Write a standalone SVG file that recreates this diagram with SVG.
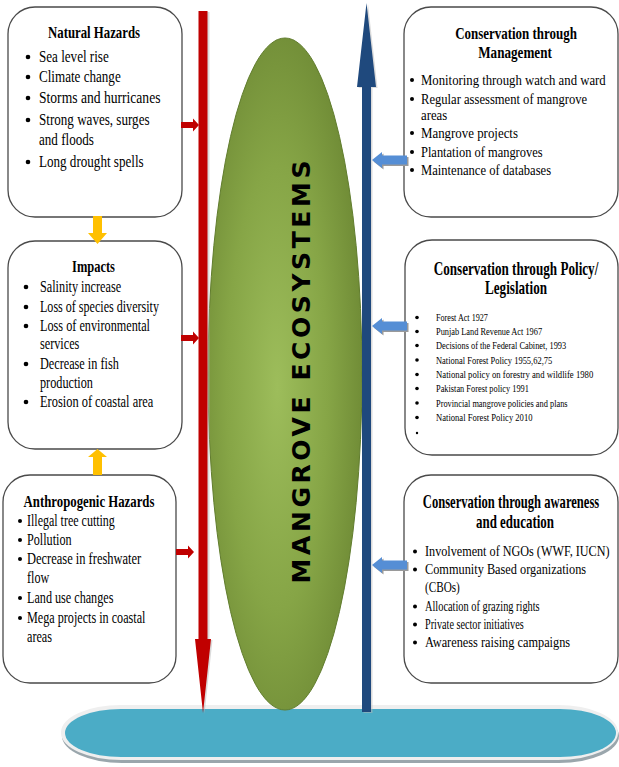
<svg xmlns="http://www.w3.org/2000/svg" xmlns:xlink="http://www.w3.org/1999/xlink" width="619" height="767" viewBox="0 0 619 767">
<defs>
  <radialGradient id="gGreen" cx="0.45" cy="0.52" r="0.55">
    <stop offset="0" stop-color="#9DBD5B"/>
    <stop offset="0.6" stop-color="#86A546"/>
    <stop offset="1" stop-color="#718D37"/>
  </radialGradient>
  <path id="ra" d="M0,-3H12V-6.5L18,0L12,6.5V3H0Z" fill="#C00000"/>
  <path id="ba" d="M0,0L10,-8V-4.5H35V4.5H10V8Z"/>
</defs>
<style>
  .box{fill:#ffffff;stroke:#4a4a4a;stroke-width:1.3}
  .t{font-family:"Liberation Serif","Times New Roman",serif;fill:#000000}
  .h{font-weight:bold;text-anchor:middle}
  .s17{font-size:17px}
  .s16{font-size:16px}
  .s15{font-size:15px}
  .s14{font-size:14px}
  .s11{font-size:11px}
  .s18{font-size:18px}
  .b{fill:#000000}
  .bsh{fill:#9a9a9a}
  .bl{fill:#558ED5}
</style>

<g id="water-base">
  <rect x="62" y="709" width="557" height="54" rx="60" ry="27" fill="#9AA6AC"/>
  <rect x="61" y="705" width="557" height="55" rx="60" ry="27" fill="#EFEFEF"/>
  <rect x="65" y="709" width="551" height="48" rx="56" ry="24" fill="#4BACC6"/>
</g>

<g id="mangrove-ecosystems">
  <ellipse cx="285" cy="374" rx="77" ry="336" fill="url(#gGreen)" stroke="#617D2E" stroke-width="1"/>
  <text transform="translate(310,372) rotate(-90)" text-anchor="middle" font-family="DejaVu Sans, Verdana, sans-serif" font-weight="bold" font-size="25" textLength="423" lengthAdjust="spacing" fill="#000">MANGROVE ECOSYSTEMS</text>
</g>

<g id="natural-hazards">
  <rect class="box" x="8" y="7" width="174" height="210" rx="27" ry="27"/>
  <text class="t h s16" transform="matrix(0.8,0,0,1,94,38)">Natural Hazards</text>
  <circle class="b" cx="28" cy="57" r="2.3"/>
  <circle class="b" cx="28" cy="77" r="2.3"/>
  <circle class="b" cx="28" cy="98" r="2.3"/>
  <circle class="b" cx="28" cy="120" r="2.3"/>
  <circle class="b" cx="28" cy="162" r="2.3"/>
  <text class="t s17" transform="matrix(0.77,0,0,1,39,62)">Sea level rise</text>
  <text class="t s17" transform="matrix(0.77,0,0,1,39,82)">Climate  change</text>
  <text class="t s17" transform="matrix(0.8,0,0,1,39,103)">Storms and hurricanes</text>
  <text class="t s17" transform="matrix(0.77,0,0,1,39,125)">Strong waves, surges</text>
  <text class="t s17" transform="matrix(0.77,0,0,1,39,145)">and floods</text>
  <text class="t s17" transform="matrix(0.77,0,0,1,39,167)">Long drought spells</text>
</g>

<g id="impacts">
  <rect class="box" x="8" y="241" width="174" height="208" rx="27" ry="27"/>
  <text class="t h s16" transform="matrix(0.78,0,0,1,93.5,272)">Impacts</text>
  <circle class="b" cx="26" cy="287" r="2.3"/>
  <circle class="b" cx="26" cy="307" r="2.3"/>
  <circle class="b" cx="26" cy="326" r="2.3"/>
  <circle class="b" cx="26" cy="364" r="2.3"/>
  <circle class="b" cx="26" cy="402" r="2.3"/>
  <text class="t s17" transform="matrix(0.72,0,0,1,40,292)">Salinity increase</text>
  <text class="t s17" transform="matrix(0.71,0,0,1,40,312)">Loss of species diversity</text>
  <text class="t s17" transform="matrix(0.72,0,0,1,40,331)">Loss of environmental</text>
  <text class="t s17" transform="matrix(0.72,0,0,1,40,349)">services</text>
  <text class="t s17" transform="matrix(0.72,0,0,1,40,369)">Decrease in fish</text>
  <text class="t s17" transform="matrix(0.72,0,0,1,40,388)">production</text>
  <text class="t s17" transform="matrix(0.73,0,0,1,40,407)">Erosion of coastal area</text>
</g>

<g id="anthropogenic-hazards">
  <rect class="box" x="3" y="475" width="173" height="208" rx="27" ry="27"/>
  <text class="t h s16" transform="matrix(0.8,0,0,1,89,507)">Anthropogenic  Hazards</text>
  <circle class="b" cx="20" cy="521" r="2"/>
  <circle class="b" cx="20" cy="540" r="2"/>
  <circle class="b" cx="20" cy="559" r="2"/>
  <circle class="b" cx="20" cy="598" r="2"/>
  <circle class="b" cx="20" cy="618" r="2"/>
  <text class="t s16" transform="matrix(0.75,0,0,1,27,526)">Illegal tree cutting</text>
  <text class="t s16" transform="matrix(0.76,0,0,1,27,545)">Pollution</text>
  <text class="t s16" transform="matrix(0.78,0,0,1,27,564)">Decrease in freshwater</text>
  <text class="t s16" transform="matrix(0.76,0,0,1,27,583)">flow</text>
  <text class="t s16" transform="matrix(0.76,0,0,1,27,603)">Land use changes</text>
  <text class="t s16" transform="matrix(0.76,0,0,1,27,623)">Mega projects in coastal</text>
  <text class="t s16" transform="matrix(0.76,0,0,1,27,642)">areas</text>
</g>

<g id="conservation-management">
  <rect class="box" x="404" y="7" width="214" height="210" rx="27" ry="27"/>
  <text class="t h s16" transform="matrix(0.81,0,0,1,516,39)">Conservation through</text>
  <text class="t h s16" transform="matrix(0.82,0,0,1,515,58)">Management</text>
  <circle class="b" cx="412" cy="80" r="2"/>
  <circle class="b" cx="412" cy="99" r="2"/>
  <circle class="b" cx="412" cy="133" r="2"/>
  <circle class="b" cx="412" cy="152" r="2"/>
  <circle class="b" cx="412" cy="170" r="2"/>
  <text class="t s15" transform="matrix(0.85,0,0,1,421,85)">Monitoring  through watch and ward</text>
  <text class="t s15" transform="matrix(0.84,0,0,1,421,104)">Regular assessment of mangrove</text>
  <text class="t s15" transform="matrix(0.85,0,0,1,421,120)">areas</text>
  <text class="t s15" transform="matrix(0.86,0,0,1,421,138)">Mangrove projects</text>
  <text class="t s15" transform="matrix(0.83,0,0,1,421,157)">Plantation of mangroves</text>
  <text class="t s15" transform="matrix(0.84,0,0,1,421,175)">Maintenance of databases</text>
</g>

<g id="conservation-policy">
  <rect class="box" x="405" y="240" width="213" height="215" rx="27" ry="27"/>
  <text class="t h s18" transform="matrix(0.73,0,0,1,516,275)">Conservation through Policy/</text>
  <text class="t h s18" transform="matrix(0.73,0,0,1,516,294)">Legislation</text>
  <circle class="b" cx="417" cy="317.5" r="1.8"/>
  <circle class="b" cx="417" cy="331.5" r="1.8"/>
  <circle class="b" cx="417" cy="345.5" r="1.8"/>
  <circle class="b" cx="417" cy="360" r="1.8"/>
  <circle class="b" cx="417" cy="374.5" r="1.8"/>
  <circle class="b" cx="417" cy="388.5" r="1.8"/>
  <circle class="b" cx="417" cy="403" r="1.8"/>
  <circle class="b" cx="417" cy="417.5" r="1.8"/>
  <circle class="b" cx="417" cy="433" r="1.2"/>
  <text class="t s11" transform="matrix(0.74,0,0,1,436,321)">Forest Act 1927</text>
  <text class="t s11" transform="matrix(0.76,0,0,1,436,335)">Punjab Land Revenue Act 1967</text>
  <text class="t s11" transform="matrix(0.76,0,0,1,436,349)">Decisions of the Federal Cabinet, 1993</text>
  <text class="t s11" transform="matrix(0.77,0,0,1,436,364)">National Forest Policy 1955,62,75</text>
  <text class="t s11" transform="matrix(0.79,0,0,1,436,378)">National policy on forestry and wildlife 1980</text>
  <text class="t s11" transform="matrix(0.76,0,0,1,436,392)">Pakistan Forest policy 1991</text>
  <text class="t s11" transform="matrix(0.76,0,0,1,436,407)">Provincial mangrove policies and plans</text>
  <text class="t s11" transform="matrix(0.78,0,0,1,436,421)">National Forest Policy 2010</text>
</g>

<g id="conservation-awareness">
  <rect class="box" x="404" y="475" width="214" height="208" rx="27" ry="27"/>
  <text class="t h s18" transform="matrix(0.70,0,0,1,511,508)">Conservation through awareness</text>
  <text class="t h s18" transform="matrix(0.72,0,0,1,515,528)">and education</text>
  <circle class="b" cx="415" cy="551.5" r="2"/>
  <circle class="b" cx="415" cy="569.5" r="2"/>
  <circle class="b" cx="415" cy="606.5" r="2"/>
  <circle class="b" cx="415" cy="624.5" r="2"/>
  <circle class="b" cx="415" cy="642.5" r="2"/>
  <text class="t s14" transform="matrix(0.87,0,0,1,425,556)">Involvement of NGOs  (WWF, IUCN)</text>
  <text class="t s14" transform="matrix(0.88,0,0,1,425,574)">Community  Based organizations</text>
  <text class="t s14" transform="matrix(0.8,0,0,1,425,592)">(CBOs)</text>
  <text class="t s14" transform="matrix(0.74,0,0,1,425,611)">Allocation of grazing rights</text>
  <text class="t s14" transform="matrix(0.73,0,0,1,425,629)">Private sector initiatives</text>
  <text class="t s14" transform="matrix(0.88,0,0,1,425,647)">Awareness raising campaigns</text>
</g>

<g id="connectors">
  <path d="M199.5,12H209.5V640H212.5L204.5,714L196.5,640H199.5Z" fill="#B8B8B8" opacity="0.5"/>
  <path d="M198.5,11H207.5V639H211L203,713L195,639H198.5Z" fill="#C00000"/>
  <path d="M363.5,713V88H358.5L368,4L377.5,88H372.5V713Z" fill="#B8B8B8" opacity="0.5"/>
  <path d="M362,712V87H357L366.5,3L376,87H371V712Z" fill="#1F497D"/>
  <use xlink:href="#ra" x="181" y="125"/>
  <use xlink:href="#ra" x="181" y="338"/>
  <use xlink:href="#ra" x="176" y="552"/>
  <use xlink:href="#ba" x="373.5" y="161.5" class="bsh"/>
  <use xlink:href="#ba" x="372" y="160" class="bl"/>
  <use xlink:href="#ba" x="373.5" y="327.5" class="bsh"/>
  <use xlink:href="#ba" x="372" y="326" class="bl"/>
  <use xlink:href="#ba" x="373.5" y="566.5" class="bsh"/>
  <use xlink:href="#ba" x="372" y="565" class="bl"/>
  <path d="M93,216H102V233H107L97.5,244L88,233H93Z" fill="#FFC000"/>
  <path d="M93,475H102V457H107L97.5,449L88,457H93Z" fill="#FFC000"/>
</g>
</svg>
